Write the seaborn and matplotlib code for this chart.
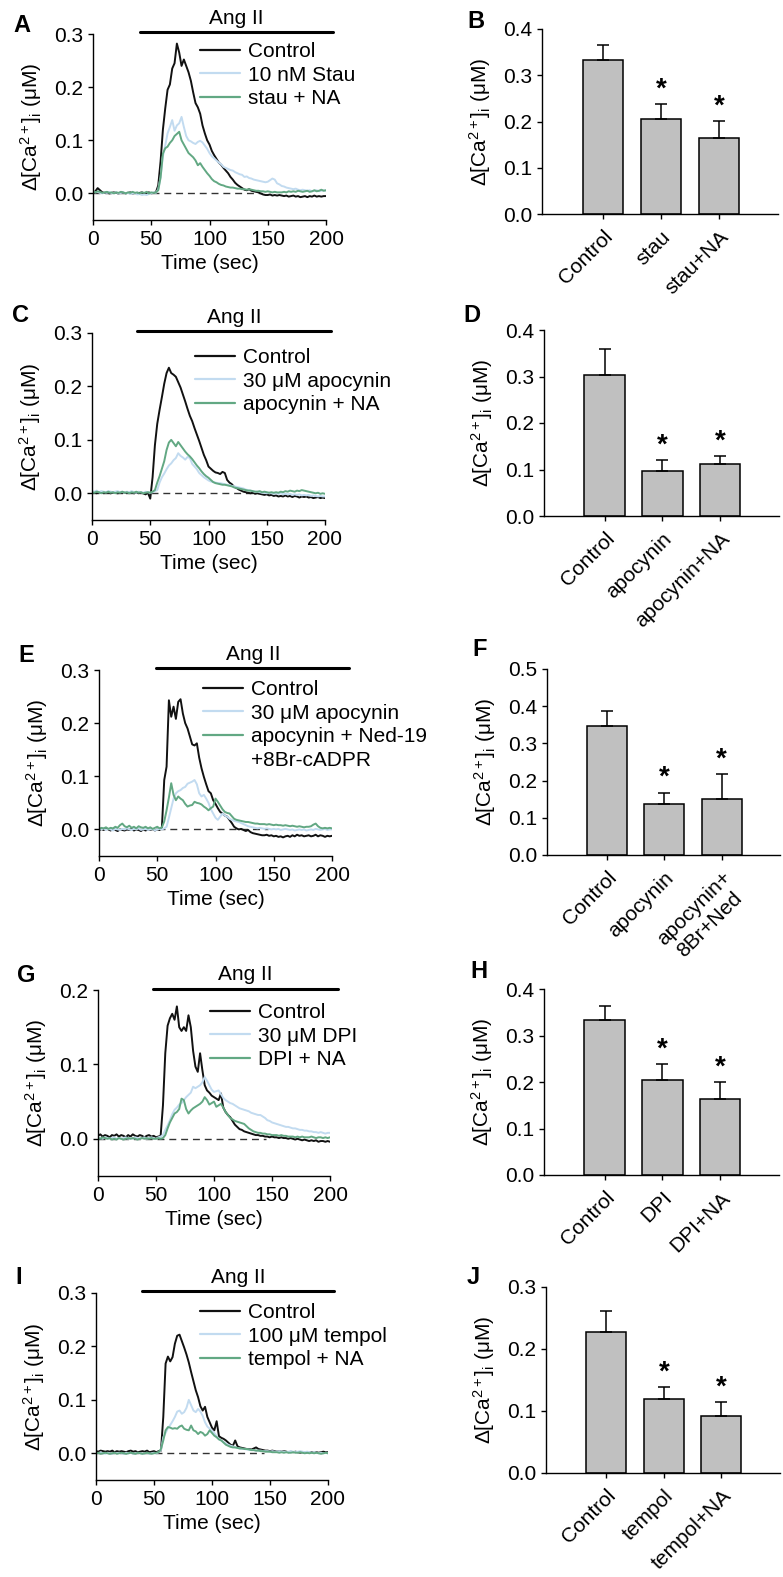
import numpy as np
import pandas as pd
import matplotlib
matplotlib.use('Agg')
import matplotlib.pyplot as plt
from matplotlib.lines import Line2D
import seaborn as sns

sns.set_theme(style='ticks')
plt.rcParams['font.family'] = ['Liberation Sans', 'DejaVu Sans']
plt.rcParams['mathtext.fontset'] = 'custom'
plt.rcParams['mathtext.rm'] = 'Liberation Sans'
plt.rcParams['mathtext.it'] = 'Liberation Sans:italic'
plt.rcParams['axes.linewidth'] = 1.0
plt.rcParams['xtick.major.size'] = 3.5
plt.rcParams['ytick.major.size'] = 3.5
plt.rcParams['xtick.major.width'] = 1.0
plt.rcParams['ytick.major.width'] = 1.0
plt.rcParams['xtick.labelsize'] = 15
plt.rcParams['ytick.labelsize'] = 15
plt.rcParams['axes.labelsize'] = 15
plt.rcParams['axes.labelpad'] = 7
plt.rcParams['xtick.color'] = 'black'
plt.rcParams['ytick.color'] = 'black'
plt.rcParams['axes.edgecolor'] = 'black'
plt.rcParams['axes.labelcolor'] = 'black'
plt.rcParams['text.color'] = 'black'

# time base of the Ca2+ traces (sec)
time = np.arange(0, 201, 2)

# ---- panel A ----
a_control = [0.002, 0.004, 0.010, 0.006, 0.002, 0.001, 0.002, 0.000, 0.001, 0.002, 0.001,
             0.000, 0.002, 0.001, 0.000, 0.001, 0.002, 0.000, 0.001, 0.000, 0.001,
             0.002, 0.000, 0.001, 0.002, 0.000, 0.001, 0.002, 0.015, 0.060, 0.120,
             0.160, 0.195, 0.205, 0.235, 0.245, 0.282, 0.265, 0.240, 0.252, 0.240,
             0.228, 0.212, 0.190, 0.170, 0.162, 0.150, 0.128, 0.113, 0.100, 0.092,
             0.080, 0.072, 0.065, 0.058, 0.054, 0.048, 0.043, 0.038, 0.031, 0.026,
             0.020, 0.016, 0.013, 0.010, 0.007, 0.006, 0.008, 0.005, 0.004, 0.003,
             0.002, 0.000, -0.002, -0.003, -0.003, -0.002, -0.004, -0.003, -0.004, -0.003,
             -0.004, -0.005, -0.004, -0.006, -0.005, -0.004, -0.006, -0.005, -0.007, -0.006,
             -0.005, -0.007, -0.005, -0.006, -0.004, -0.006, -0.005, -0.006, -0.005, -0.005]
a_stau = [0.004, 0.002, 0.003, 0.001, 0.000, 0.002, 0.001, 0.003, 0.000, 0.001, 0.002,
          0.000, 0.001, 0.002, 0.000, 0.001, -0.001, 0.000, 0.001, -0.002, -0.001,
          -0.003, -0.002, -0.003, -0.001, 0.000, 0.002, 0.001, 0.008, 0.030, 0.070,
          0.090, 0.113, 0.125, 0.138, 0.118, 0.128, 0.132, 0.144, 0.125, 0.108,
          0.100, 0.098, 0.095, 0.093, 0.097, 0.099, 0.096, 0.090, 0.084, 0.076,
          0.070, 0.066, 0.062, 0.058, 0.055, 0.050, 0.048, 0.046, 0.044, 0.043,
          0.040, 0.038, 0.036, 0.035, 0.031, 0.032, 0.029, 0.028, 0.026, 0.025,
          0.024, 0.023, 0.022, 0.021, 0.022, 0.025, 0.028, 0.026, 0.019, 0.017,
          0.014, 0.013, 0.011, 0.010, 0.009, 0.008, 0.009, 0.007, 0.006, 0.007,
          0.006, 0.005, 0.006, 0.004, 0.005, 0.006, 0.004, 0.005, 0.006, 0.005]
a_stau_na = [0.003, 0.002, 0.004, 0.003, 0.001, 0.002, 0.003, 0.001, 0.002, 0.000, 0.002,
             0.001, 0.003, 0.002, 0.000, 0.002, 0.001, 0.003, 0.001, 0.002, 0.000,
             0.002, 0.001, 0.003, 0.000, 0.002, 0.001, 0.002, 0.006, 0.030, 0.075,
             0.085, 0.088, 0.095, 0.100, 0.108, 0.112, 0.116, 0.100, 0.092, 0.084,
             0.076, 0.072, 0.068, 0.062, 0.053, 0.057, 0.050, 0.044, 0.038, 0.033,
             0.027, 0.023, 0.021, 0.018, 0.016, 0.015, 0.013, 0.012, 0.011, 0.011,
             0.010, 0.009, 0.009, 0.008, 0.008, 0.007, 0.008, 0.007, 0.006, 0.005,
             0.005, 0.004, 0.004, 0.003, 0.004, 0.003, 0.002, 0.003, 0.002, 0.002,
             0.002, 0.003, 0.002, 0.004, 0.003, 0.004, 0.003, 0.005, 0.004, 0.003,
             0.004, 0.005, 0.003, 0.004, 0.006, 0.004, 0.005, 0.007, 0.005, 0.006]

# ---- panel C ----
c_control = [0.002, 0.001, 0.000, 0.002, 0.001, 0.000, 0.001, 0.002, 0.000, 0.001, 0.002,
             0.000, 0.001, 0.002, 0.001, 0.000, 0.001, 0.002, 0.000, 0.001, 0.000,
             0.001, 0.000, -0.002, 0.001, -0.010, 0.030, 0.090, 0.130, 0.156, 0.180,
             0.205, 0.225, 0.235, 0.225, 0.222, 0.218, 0.208, 0.198, 0.185, 0.172,
             0.158, 0.145, 0.135, 0.122, 0.110, 0.098, 0.085, 0.072, 0.062, 0.050,
             0.046, 0.042, 0.039, 0.038, 0.036, 0.040, 0.038, 0.025, 0.020, 0.017,
             0.012, 0.010, 0.007, 0.005, 0.003, 0.002, 0.001, 0.000, 0.001, -0.001,
             0.000, -0.001, -0.002, -0.003, -0.002, -0.004, -0.003, -0.005, -0.004, -0.006,
             -0.005, -0.006, -0.004, -0.006, -0.005, -0.007, -0.005, -0.006, -0.008, -0.006,
             -0.007, -0.006, -0.008, -0.007, -0.009, -0.008, -0.007, -0.009, -0.008, -0.009]
c_apo = [0.004, 0.003, 0.005, 0.002, 0.004, 0.003, 0.002, 0.004, 0.003, 0.002, 0.003,
         0.004, 0.002, 0.003, 0.001, 0.003, 0.002, 0.004, 0.002, 0.001, 0.003,
         0.002, 0.001, 0.003, 0.002, 0.001, 0.002, 0.004, 0.006, 0.020, 0.030,
         0.037, 0.045, 0.052, 0.056, 0.062, 0.066, 0.075, 0.070, 0.067, 0.063,
         0.068, 0.066, 0.055, 0.050, 0.045, 0.038, 0.034, 0.030, 0.027, 0.024,
         0.022, 0.021, 0.020, 0.019, 0.019, 0.018, 0.017, 0.016, 0.015, 0.014,
         0.013, 0.012, 0.011, 0.010, 0.009, 0.007, 0.006, 0.005, 0.004, 0.003,
         0.003, 0.002, 0.001, 0.001, 0.000, 0.001, 0.000, -0.001, 0.000, -0.001,
         0.000, -0.002, -0.001, -0.002, -0.001, -0.003, -0.002, -0.003, -0.002, -0.004,
         -0.003, -0.004, -0.003, -0.005, -0.004, -0.005, -0.006, -0.005, -0.006, -0.006]
c_apo_na = [0.002, 0.001, 0.003, 0.002, 0.000, 0.002, 0.001, 0.003, 0.001, 0.002, 0.000,
            0.002, 0.001, 0.003, 0.001, 0.002, 0.000, 0.002, 0.001, 0.003, 0.001,
            0.002, 0.000, 0.001, 0.002, 0.001, 0.003, 0.006, 0.020, 0.032, 0.046,
            0.060, 0.081, 0.095, 0.100, 0.094, 0.088, 0.096, 0.090, 0.084, 0.078,
            0.073, 0.069, 0.064, 0.058, 0.052, 0.047, 0.041, 0.036, 0.032, 0.029,
            0.025, 0.021, 0.019, 0.018, 0.017, 0.016, 0.016, 0.015, 0.014, 0.013,
            0.011, 0.010, 0.009, 0.008, 0.007, 0.006, 0.005, 0.005, 0.004, 0.003,
            0.003, 0.004, 0.002, 0.003, 0.002, 0.001, 0.002, 0.001, 0.002, 0.001,
            0.003, 0.002, 0.004, 0.003, 0.005, 0.004, 0.003, 0.005, 0.004, 0.006,
            0.005, 0.004, 0.003, 0.002, 0.001, 0.000, 0.001, -0.001, 0.000, -0.001]

# ---- panel E ----
e_control = [-0.002, 0.001, -0.001, 0.002, 0.000, -0.002, 0.001, -0.001, -0.003, 0.000, -0.001,
             -0.002, 0.000, -0.001, 0.001, -0.002, 0.000, -0.001, -0.003, 0.000, -0.002,
             0.000, -0.001, 0.001, -0.002, 0.000, -0.001, 0.004, 0.093, 0.118, 0.243,
             0.212, 0.231, 0.208, 0.240, 0.245, 0.218, 0.200, 0.190, 0.175, 0.160,
             0.158, 0.162, 0.135, 0.115, 0.099, 0.085, 0.072, 0.068, 0.055, 0.048,
             0.040, 0.033, 0.030, 0.026, 0.024, 0.018, 0.012, 0.005, 0.002, 0.000,
             0.001, -0.001, -0.003, -0.001, -0.005, -0.007, -0.008, -0.009, -0.010, -0.011,
             -0.011, -0.010, -0.012, -0.011, -0.013, -0.012, -0.014, -0.013, -0.015, -0.013,
             -0.012, -0.014, -0.011, -0.013, -0.010, -0.012, -0.011, -0.013, -0.012, -0.011,
             -0.013, -0.012, -0.010, -0.013, -0.011, -0.012, -0.014, -0.012, -0.013, -0.012]
e_apo = [0.001, 0.000, 0.002, -0.001, 0.001, 0.000, -0.002, 0.001, 0.000, -0.001, 0.001,
         0.000, 0.002, 0.000, -0.001, 0.001, 0.000, 0.002, -0.001, 0.000, 0.001,
         -0.001, 0.000, 0.001, -0.002, 0.000, 0.001, 0.000, 0.002, 0.005, 0.022,
         0.040, 0.058, 0.068, 0.072, 0.074, 0.078, 0.080, 0.086, 0.088, 0.090,
         0.093, 0.085, 0.068, 0.062, 0.065, 0.058, 0.050, 0.038, 0.030, 0.022,
         0.018, 0.024, 0.030, 0.026, 0.024, 0.020, 0.018, 0.016, 0.015, 0.014,
         0.012, 0.010, 0.008, 0.006, 0.005, 0.004, 0.003, 0.002, 0.003, 0.002,
         0.001, 0.002, 0.001, 0.000, 0.001, 0.000, 0.001, -0.001, 0.000, 0.001,
         0.000, -0.001, 0.000, -0.002, -0.001, 0.000, -0.001, 0.000, -0.002, -0.001,
         0.000, -0.001, 0.001, 0.000, -0.001, 0.000, 0.001, -0.001, 0.000, 0.000]
e_apo_ned = [0.000, 0.003, 0.002, 0.004, 0.001, 0.003, 0.002, 0.005, 0.003, 0.008, 0.011,
             0.006, 0.004, 0.007, 0.003, 0.005, 0.002, 0.006, 0.004, 0.003, 0.005,
             0.002, 0.004, 0.001, 0.003, 0.005, 0.002, 0.004, 0.015, 0.036, 0.060,
             0.087, 0.065, 0.055, 0.062, 0.058, 0.055, 0.048, 0.043, 0.045, 0.046,
             0.052, 0.050, 0.049, 0.047, 0.043, 0.040, 0.036, 0.040, 0.043, 0.058,
             0.052, 0.045, 0.038, 0.033, 0.031, 0.030, 0.025, 0.020, 0.018, 0.017,
             0.016, 0.015, 0.014, 0.014, 0.013, 0.012, 0.011, 0.011, 0.010, 0.010,
             0.010, 0.009, 0.010, 0.009, 0.008, 0.009, 0.008, 0.008, 0.007, 0.008,
             0.007, 0.006, 0.007, 0.006, 0.005, 0.006, 0.005, 0.004, 0.005, 0.005,
             0.006, 0.009, 0.011, 0.006, 0.003, 0.002, 0.003, 0.002, 0.003, 0.002]

# ---- panel G ----
g_control = [0.004, 0.006, 0.003, 0.005, 0.004, 0.002, 0.005, 0.004, 0.006, 0.003, 0.005,
             0.004, 0.002, 0.005, 0.003, 0.006, 0.004, 0.003, 0.005, 0.004, 0.002,
             0.004, 0.005, 0.003, 0.004, 0.002, 0.003, 0.004, 0.045, 0.115, 0.152,
             0.162, 0.168, 0.160, 0.178, 0.150, 0.145, 0.150, 0.145, 0.166, 0.150,
             0.118, 0.097, 0.090, 0.115, 0.092, 0.072, 0.065, 0.062, 0.058, 0.056,
             0.054, 0.052, 0.061, 0.042, 0.036, 0.032, 0.029, 0.024, 0.019, 0.016,
             0.013, 0.012, 0.010, 0.009, 0.008, 0.007, 0.006, 0.005, 0.005, 0.004,
             0.004, 0.003, 0.003, 0.002, 0.003, 0.002, 0.002, 0.001, 0.002, 0.001,
             0.001, 0.000, 0.001, 0.000, -0.001, 0.000, -0.001, -0.002, -0.001, -0.002,
             -0.003, -0.002, -0.003, -0.002, -0.004, -0.003, -0.003, -0.004, -0.003, -0.004]
g_dpi = [0.002, 0.001, 0.000, 0.002, 0.001, 0.000, 0.001, 0.002, 0.000, 0.001, 0.000,
         0.001, 0.002, 0.000, 0.001, 0.000, 0.002, 0.001, 0.000, 0.001, 0.002,
         0.000, 0.001, 0.002, 0.001, 0.000, 0.002, 0.003, 0.005, 0.012, 0.018,
         0.025, 0.033, 0.039, 0.042, 0.046, 0.048, 0.052, 0.056, 0.059, 0.062,
         0.070, 0.068, 0.070, 0.072, 0.076, 0.083, 0.078, 0.072, 0.066, 0.063,
         0.064, 0.065, 0.060, 0.055, 0.052, 0.050, 0.048, 0.047, 0.045, 0.043,
         0.041, 0.040, 0.039, 0.038, 0.037, 0.035, 0.034, 0.033, 0.032, 0.032,
         0.030, 0.028, 0.025, 0.024, 0.022, 0.021, 0.020, 0.019, 0.018, 0.017,
         0.016, 0.016, 0.015, 0.014, 0.014, 0.013, 0.012, 0.012, 0.011, 0.011,
         0.010, 0.010, 0.009, 0.009, 0.008, 0.009, 0.008, 0.007, 0.008, 0.008]
g_dpi_na = [0.001, 0.000, 0.002, 0.001, 0.000, 0.001, -0.001, 0.000, -0.001, 0.001, 0.000,
            -0.001, 0.000, 0.001, 0.000, 0.001, 0.000, -0.001, 0.000, 0.001, 0.000,
            0.001, 0.000, 0.001, 0.000, 0.000, 0.001, 0.000, 0.001, 0.005, 0.014,
            0.022, 0.028, 0.034, 0.036, 0.040, 0.054, 0.052, 0.040, 0.034, 0.038,
            0.041, 0.043, 0.045, 0.047, 0.050, 0.056, 0.052, 0.046, 0.048, 0.050,
            0.043, 0.045, 0.047, 0.042, 0.036, 0.032, 0.028, 0.026, 0.024, 0.023,
            0.022, 0.021, 0.020, 0.017, 0.014, 0.012, 0.010, 0.009, 0.008, 0.008,
            0.007, 0.007, 0.006, 0.006, 0.005, 0.005, 0.005, 0.004, 0.005, 0.004,
            0.004, 0.003, 0.003, 0.003, 0.002, 0.003, 0.002, 0.003, 0.002, 0.002,
            0.002, 0.003, 0.002, 0.001, 0.002, 0.002, 0.001, 0.002, 0.001, 0.002]

# ---- panel I ----
i_control = [0.004, 0.003, 0.005, 0.004, 0.003, 0.004, 0.003, 0.005, 0.002, 0.004, 0.003,
             0.004, 0.003, 0.002, 0.004, 0.005, 0.003, 0.004, 0.002, 0.003, 0.004,
             0.003, 0.005, 0.002, 0.003, 0.004, 0.002, 0.004, 0.005, 0.068, 0.168,
             0.181, 0.172, 0.180, 0.205, 0.220, 0.222, 0.210, 0.198, 0.185, 0.170,
             0.152, 0.135, 0.118, 0.105, 0.088, 0.080, 0.087, 0.068, 0.058, 0.048,
             0.043, 0.060, 0.032, 0.029, 0.027, 0.024, 0.020, 0.016, 0.014, 0.024,
             0.013, 0.011, 0.010, 0.009, 0.008, 0.008, 0.007, 0.009, 0.011, 0.008,
             0.007, 0.006, 0.005, 0.005, 0.004, 0.005, 0.004, 0.003, 0.004, 0.003,
             0.004, 0.003, 0.002, 0.003, 0.002, 0.003, 0.002, 0.001, 0.002, 0.001,
             0.002, 0.001, 0.002, 0.001, 0.002, 0.001, 0.002, 0.003, 0.002, 0.002]
i_tempol = [0.001, 0.000, 0.002, 0.000, -0.001, 0.001, 0.000, -0.001, 0.001, 0.000, 0.001,
            0.000, -0.001, 0.001, 0.000, 0.001, -0.001, 0.000, 0.001, 0.000, -0.001,
            0.000, 0.001, -0.001, 0.000, 0.001, 0.000, 0.002, 0.006, 0.030, 0.038,
            0.047, 0.053, 0.060, 0.068, 0.078, 0.080, 0.074, 0.077, 0.085, 0.100,
            0.090, 0.080, 0.077, 0.083, 0.078, 0.070, 0.058, 0.050, 0.046, 0.042,
            0.038, 0.032, 0.026, 0.024, 0.021, 0.018, 0.016, 0.014, 0.013, 0.011,
            0.010, 0.009, 0.008, 0.008, 0.007, 0.007, 0.006, 0.006, 0.005, 0.005,
            0.005, 0.004, 0.004, 0.004, 0.003, 0.004, 0.003, 0.003, 0.004, 0.003,
            0.003, 0.002, 0.003, 0.004, 0.003, 0.002, 0.003, 0.004, 0.003, 0.002,
            0.003, 0.002, 0.001, 0.002, 0.001, 0.000, 0.001, 0.000, 0.001, 0.000]
i_tempol_na = [0.000, 0.001, -0.001, 0.000, 0.001, 0.000, -0.001, 0.000, 0.001, -0.001, 0.000,
               0.001, 0.000, -0.001, 0.000, 0.001, 0.000, -0.001, 0.001, 0.000, -0.001,
               0.000, 0.001, 0.000, -0.001, 0.000, 0.001, 0.002, 0.008, 0.024, 0.043,
               0.049, 0.048, 0.046, 0.047, 0.046, 0.050, 0.052, 0.046, 0.044, 0.043,
               0.052, 0.043, 0.041, 0.036, 0.040, 0.038, 0.033, 0.036, 0.043, 0.038,
               0.033, 0.030, 0.026, 0.024, 0.020, 0.016, 0.014, 0.012, 0.011, 0.011,
               0.010, 0.009, 0.009, 0.008, 0.008, 0.007, 0.006, 0.006, 0.005, 0.005,
               0.004, 0.004, 0.003, 0.003, 0.003, 0.002, 0.002, 0.002, 0.001, 0.002,
               0.001, 0.002, 0.001, 0.001, 0.002, 0.001, 0.001, 0.002, 0.001, 0.000,
               0.001, 0.000, 0.001, 0.000, 0.001, 0.000, -0.001, 0.000, 0.001, 0.000]

# ---- bar panels (mean, SEM) ----
b_labels = ['Control', 'stau', 'stau+NA']
b_mean = [0.334, 0.205, 0.164]
b_sem = [0.031, 0.033, 0.037]
d_labels = ['Control', 'apocynin', 'apocynin+NA']
d_mean = [0.303, 0.097, 0.112]
d_sem = [0.057, 0.024, 0.018]
f_labels = ['Control', 'apocynin', 'apocynin+\n8Br+Ned']
f_mean = [0.346, 0.138, 0.151]
f_sem = [0.042, 0.030, 0.068]
h_labels = ['Control', 'DPI', 'DPI+NA']
h_mean = [0.333, 0.204, 0.163]
h_sem = [0.031, 0.035, 0.038]
j_labels = ['Control', 'tempol', 'tempol+NA']
j_mean = [0.227, 0.120, 0.0925]
j_sem = [0.035, 0.019, 0.022]

YLABEL = 'Δ[Ca$^{2+}$]$_\\mathrm{i}$ (μM)'
COLORS = ['#111111', '#c2dbf0', '#62a883']

W, H = 783, 1577
fig = plt.figure(figsize=(W / 100, H / 100), dpi=100)


def px_axes(l, t, r, b):
    return fig.add_axes([l / W, 1 - b / H, (r - l) / W, (b - t) / H])


def letter(x, y, s):
    fig.text(x / W, 1 - y / H, s, fontsize=17, fontweight='bold', ha='left', va='center')


def trace_panel(box, traces, labels, ymax, ang, leg_xy):
    ax = px_axes(*box)
    ax.hlines(0, 0, 145, colors='#333333', linestyles=(0, (5, 3.5)), lw=1, zorder=1)
    for vals, col in zip(traces, COLORS):
        sns.lineplot(x=time, y=vals, color=col, lw=1.4, ax=ax, zorder=2)
    ax.set_xlim(0, 200)
    ax.set_ylim(-0.05, ymax)
    ax.set_xticks([0, 50, 100, 150, 200])
    ax.set_yticks(np.arange(0, ymax + 0.001, 0.1))
    ax.yaxis.set_major_formatter(matplotlib.ticker.FormatStrFormatter('%.1f'))
    ax.set_xlabel('Time (sec)', labelpad=4)
    ax.set_ylabel(YLABEL)
    sns.despine(ax=ax)
    # Ang II application bar
    ax.plot(ang, [ymax * 1.01, ymax * 1.01], color='black', lw=2.2, clip_on=False)
    ax.annotate('Ang II', ((ang[0] + ang[1]) / 2, ymax * 1.01), xytext=(0, 3),
                textcoords='offset points', ha='center', va='bottom', fontsize=15,
                annotation_clip=False)
    handles = [Line2D([], [], color=c, lw=1.6) for c in COLORS]
    if len(labels) > 3:
        handles.append(Line2D([], [], color='none'))
    ax.legend(handles, labels, loc='upper left', frameon=False,
              bbox_to_anchor=(leg_xy[0] / W, 1 - (leg_xy[1] - 7) / H),
              bbox_transform=fig.transFigure, borderpad=0, borderaxespad=0,
              handlelength=1.9, handletextpad=0.42, labelspacing=0.22, fontsize=15)
    return ax


def bar_panel(box, labels, means, sems, ymax):
    ax = px_axes(*box)
    df = pd.DataFrame({'cond': labels, 'val': means})
    sns.barplot(data=df, x='cond', y='val', color='#c0c0c0', saturation=1,
                edgecolor='black', linewidth=1.1, width=0.7, ax=ax)
    ax.errorbar(range(len(labels)), means, yerr=[np.zeros(len(sems)), sems],
                fmt='none', ecolor='black', elinewidth=1.1, capsize=4, capthick=1.1)
    for i in range(1, len(labels)):
        ax.annotate('*', (i, means[i] + sems[i]), xytext=(0, 1), textcoords='offset points',
                    ha='center', va='bottom', fontsize=20, fontweight='bold')
    ax.set_xlim(-1.05, 3.02)
    ax.set_ylim(0, ymax)
    ax.set_yticks(np.arange(0, ymax + 0.001, 0.1))
    ax.yaxis.set_major_formatter(matplotlib.ticker.FormatStrFormatter('%.1f'))
    ax.set_xlabel('')
    ax.set_ylabel(YLABEL)
    ax.tick_params(axis='x', pad=6)
    plt.setp(ax.get_xticklabels(), rotation=45, ha='right', rotation_mode='anchor',
             multialignment='center')
    sns.despine(ax=ax)
    return ax


trace_panel((93, 34, 326, 220), [a_control, a_stau, a_stau_na],
            ['Control', '10 nM Stau', 'stau + NA'], 0.3, [40, 206], (200, 49))
bar_panel((542, 29, 778, 214), b_labels, b_mean, b_sem, 0.4)

trace_panel((92, 333, 325, 520), [c_control, c_apo, c_apo_na],
            ['Control', '30 μM apocynin', 'apocynin + NA'], 0.3, [39, 205], (195, 355))
bar_panel((544, 330, 779, 516), d_labels, d_mean, d_sem, 0.4)

trace_panel((99, 670, 332, 856), [e_control, e_apo, e_apo_ned],
            ['Control', '30 μM apocynin', 'apocynin + Ned-19', '+8Br-cADPR'], 0.3,
            [49, 215], (203, 687))
bar_panel((547, 669, 780, 855), f_labels, f_mean, f_sem, 0.5)

trace_panel((98, 990, 330, 1176), [g_control, g_dpi, g_dpi_na],
            ['Control', '30 μM DPI', 'DPI + NA'], 0.2, [47, 207], (210, 1010))
bar_panel((544, 989, 779, 1175), h_labels, h_mean, h_sem, 0.4)

trace_panel((96, 1293, 328, 1480), [i_control, i_tempol, i_tempol_na],
            ['Control', '100 μM tempol', 'tempol + NA'], 0.3, [40, 205], (200, 1310))
bar_panel((546, 1287, 780, 1473), j_labels, j_mean, j_sem, 0.3)

for x, y, s in [(13, 25, 'A'), (467, 22, 'B'), (12, 315, 'C'), (463, 315, 'D'),
                (18, 656, 'E'), (472, 649, 'F'), (17, 975, 'G'), (470, 971, 'H'),
                (15, 1277, 'I'), (467, 1277, 'J')]:
    letter(x, y, s)

fig.savefig('out.png', dpi=100)
